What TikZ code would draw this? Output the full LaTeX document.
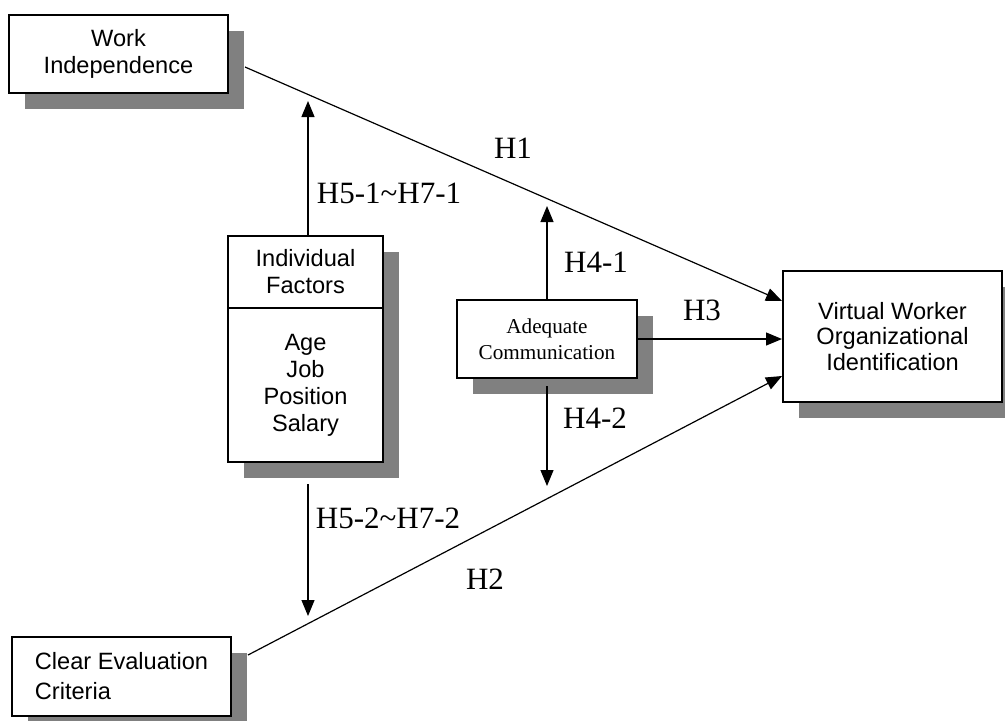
\documentclass[tikz,border=0pt]{standalone}
\usepackage{fontspec}
\setmainfont{Liberation Sans}
\newfontfamily\tnr{Liberation Serif}
\usetikzlibrary{arrows.meta,shadows}

\tikzset{
  box/.style={draw,line width=1pt,fill=white,align=center,inner sep=0pt,
    font=\fontsize{11.8}{13.5}\selectfont,
    drop shadow={shadow xshift=8pt,shadow yshift=-8pt,opacity=1,fill=gray}},
  hyp/.style={font=\tnr\fontsize{15.5}{18}\selectfont},
  arr/.style={-{Triangle[length=8pt,width=6.5pt]},line width=0.6pt},
}

\begin{document}
\begin{tikzpicture}[x=0.5pt,y=-0.5pt]
\useasboundingbox (0,0) rectangle (1005,720);
% boxes
\node[box,minimum width=109.5pt,minimum height=39pt] (wi) at (118.5,54) {Work\\Independence};
\node[box,minimum width=77.5pt,minimum height=36pt] (ift) at (305.5,272) {Individual\\Factors};
\node[box,minimum width=77.5pt,minimum height=77pt] (ifb) at (305.5,385) {Age\\Job\\Position\\Salary};
\node[box,minimum width=90pt,minimum height=39pt,font=\tnr\fontsize{10.6}{13}\selectfont] (ac) at (547,339) {Adequate\\Communication};
\node[box,minimum width=109.5pt,minimum height=65.5pt,font=\fontsize{11.8}{12.8}\selectfont] (vw) at (892.5,336.5) {Virtual Worker\\Organizational\\Identification};
\node[box,align=left,minimum width=109.5pt,minimum height=39.5pt,font=\fontsize{11.8}{15}\selectfont] (ce) at (121.5,676.5) {Clear Evaluation\\Criteria};

% main paths
\draw[arr] ([xshift=8pt,yshift=-6.5pt]wi.east) -- ([yshift=17.75pt]vw.west);
\draw[arr] (ac.east) -- (ac.east -| vw.west);
\draw[arr] ([xshift=8pt,yshift=10.75pt]ce.east) -- ([yshift=-19.75pt]vw.west);

% moderators
\draw[arr] (ac.north) -- ++(0,-93);
\draw[arr] ([yshift=-3.5pt]ac.south) -- ++(0,100);
\draw[arr] ([xshift=1.25pt]ift.north) -- ++(0,-134);
\draw[arr] ([xshift=1.25pt,yshift=-10.5pt]ifb.south) -- ++(0,132);

% labels
\node[hyp] (h1) at (513,148) {H1};
\node[hyp] (h2) at (485,579) {H2};
\node[hyp] (h3) at (702,310) {H3};
\node[hyp] (h41) at (596,262) {H4-1};
\node[hyp] (h42) at (595,418) {H4-2};
\node[hyp] (h51) at (389,193) {H5-1\textasciitilde H7-1};
\node[hyp] (h52) at (388,518) {H5-2\textasciitilde H7-2};
\end{tikzpicture}
\end{document}
